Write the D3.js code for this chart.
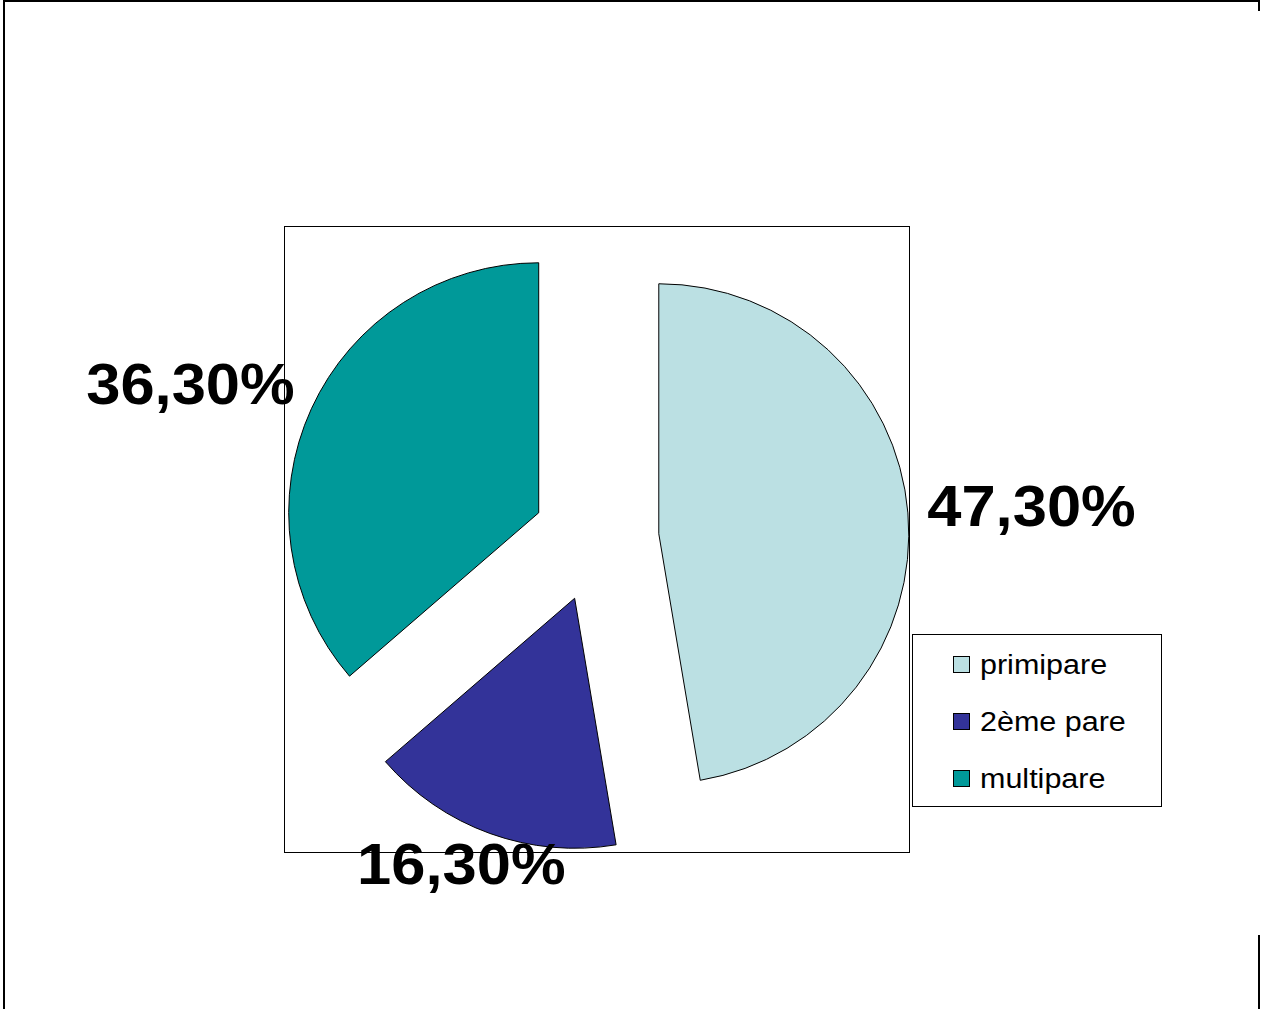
<!DOCTYPE html>
<html>
<head>
<meta charset="utf-8">
<script src="https://cdn.jsdelivr.net/npm/d3@7"></script>
<style>
  html, body { margin: 0; padding: 0; background: #fff; }
  svg { display: block; }
</style>
</head>
<body>
<svg id="chart" width="1261" height="1009"></svg>
<script>
// Parity distribution
const categories = ["primipare", "2ème pare", "multipare"];
const values = [47.3, 16.3, 36.3];
const valueLabels = ["47,30%", "16,30%", "36,30%"];
const colors = ["#BBE0E3", "#333399", "#009999"];

const W = 1261, H = 1009;
const svg = d3.select("#chart");

// Frame around the chart area
const frame = svg.append("g").attr("stroke", "#000").attr("stroke-width", 2).attr("fill", "none");
frame.append("line").attr("x1", 4).attr("y1", 0).attr("x2", 4).attr("y2", H);
frame.append("line").attr("x1", 3).attr("y1", 1).attr("x2", 1260).attr("y2", 1);
frame.append("line").attr("x1", 1259).attr("y1", 0).attr("x2", 1259).attr("y2", 11);
frame.append("line").attr("x1", 1259).attr("y1", 935).attr("x2", 1259).attr("y2", H);

// Pie geometry
const cx = 596, cy = 539, radius = 250, explode = 63;

const pie = d3.pie().sort(null).value(d => d).startAngle(0).endAngle(2 * Math.PI);
const arcs = pie(values);
const arc = d3.arc().innerRadius(0).outerRadius(radius);

const color = d3.scaleOrdinal().domain(categories).range(colors);

const slices = svg.append("g").attr("transform", `translate(${cx},${cy})`);

function unit(a) {
  const mid = (a.startAngle + a.endAngle) / 2;
  return [Math.sin(mid), -Math.cos(mid)];
}

slices.selectAll("path")
  .data(arcs)
  .join("path")
  .attr("transform", d => {
    const [ux, uy] = unit(d);
    return `translate(${ux * explode},${uy * explode})`;
  })
  .attr("d", arc)
  .attr("fill", (d, i) => color(categories[i]))
  .attr("stroke", "#000")
  .attr("stroke-width", 1)
  .attr("stroke-linejoin", "miter");

// Value labels, placed outside each slice along its bisector
const labelDist = [437, 350, 435];
const labelNudge = [[0, 2], [-16, -5], [-10, 25]];
const labelSize = 58;

svg.append("g")
  .selectAll("text")
  .data(arcs)
  .join("text")
  .attr("transform", (d, i) => {
    const [ux, uy] = unit(d);
    const x = cx + ux * labelDist[i] + labelNudge[i][0];
    const y = cy + uy * labelDist[i] + labelNudge[i][1];
    return `translate(${x},${y + labelSize * 0.36}) scale(1.06,1)`;
  })
  .attr("text-anchor", "middle")
  .attr("font-family", "'Liberation Sans', Arial, sans-serif")
  .attr("font-weight", "bold")
  .attr("font-size", labelSize)
  .attr("fill", "#000")
  .text((d, i) => valueLabels[i]);

// Plot area border, drawn over the labels
const plot = { x: 284, y: 226, w: 625, h: 626 };
svg.append("rect")
  .attr("x", plot.x + 0.5).attr("y", plot.y + 0.5)
  .attr("width", plot.w).attr("height", plot.h)
  .attr("fill", "none").attr("stroke", "#000").attr("stroke-width", 1);

// Legend
const legend = svg.append("g").attr("transform", "translate(912,634)");
legend.append("rect")
  .attr("x", 0.5).attr("y", 0.5).attr("width", 249).attr("height", 172)
  .attr("fill", "#fff").attr("stroke", "#000").attr("stroke-width", 1);

const rowY = d3.scalePoint().domain(categories).range([40, 154]);

const item = legend.selectAll("g.item")
  .data(categories)
  .join("g")
  .attr("class", "item")
  .attr("transform", d => `translate(0,${rowY(d)})`);

item.append("rect")
  .attr("x", 41.5).attr("y", -17.5).attr("width", 16).attr("height", 16)
  .attr("fill", d => color(d))
  .attr("stroke", "#000").attr("stroke-width", 1);

item.append("text")
  .attr("transform", "translate(68,0) scale(1.09,1)")
  .attr("font-family", "'Liberation Sans', Arial, sans-serif")
  .attr("font-size", 28)
  .attr("fill", "#000")
  .text(d => d);
</script>
</body>
</html>
